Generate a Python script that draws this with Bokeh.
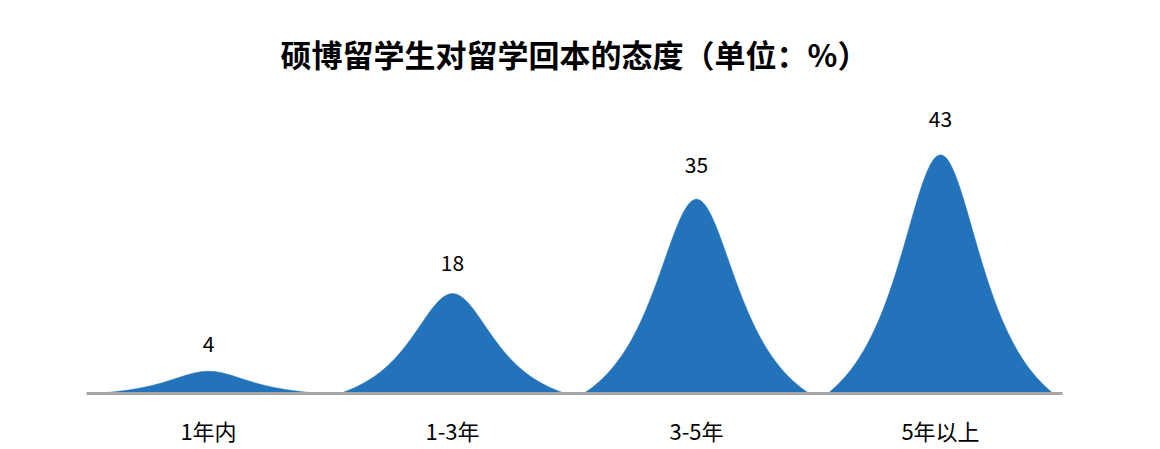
import numpy as np
from bokeh.plotting import figure
from bokeh.models import Range1d, FixedTicker, ColumnDataSource
from bokeh.embed import file_html
from bokeh.resources import INLINE
from bokeh.core.properties import value

# ---- data ----
categories = ["1年内", "1-3年", "3-5年", "5年以上"]
values = [4, 18, 35, 43]
title_text = "硕博留学生对留学回本的态度（单位：%）"

# ---- style ----
BLUE = "#2373BA"
AXIS_GRAY = "#A6A6A6"
FONT = "Noto Sans CJK SC"
HALF_WIDTH = 0.462      # half base width of a peak, in category units
PEAK_FILL = 0.96        # peak shape fills 96% of its bar height

p = figure(width=1160, height=449, output_backend="svg", toolbar_location=None,
           x_range=Range1d(0, len(categories)), y_range=Range1d(0, 50),
           min_border_left=86, min_border_right=98,
           min_border_top=101, min_border_bottom=56)

# peak ("mountain") shapes
u = np.linspace(-1, 1, 241)
prof = (1 - u ** 2) / (1 + (u / 0.485) ** 2)
xs = [list(i + 0.5 + u * HALF_WIDTH) for i in range(len(values))]
ys = [list(v * PEAK_FILL * prof) for v in values]
p.patches(xs, ys, fill_color=BLUE, line_color=BLUE, line_width=0.6)

# value labels
src = ColumnDataSource(dict(x=[i + 0.5 for i in range(len(values))], y=values,
                            t=[str(v) for v in values]))
p.text(x="x", y="y", text="t", source=src, text_align="center", text_baseline="middle",
       y_offset=-26, text_font=value(FONT), text_font_size="21px", text_color="#000000")

# axes
p.yaxis.visible = False
p.xaxis.ticker = FixedTicker(ticks=[i + 0.5 for i in range(len(categories))])
p.xaxis.major_label_overrides = {i + 0.5: c for i, c in enumerate(categories)}
p.xaxis.axis_line_color = AXIS_GRAY
p.xaxis.axis_line_width = 3
p.xaxis.major_tick_line_color = None
p.xaxis.minor_tick_line_color = None
p.xaxis.major_tick_out = 0
p.xaxis.major_tick_in = 0
p.xaxis.major_label_standoff = 20
p.xaxis.major_label_text_font = FONT
p.xaxis.major_label_text_font_size = "22px"
p.xaxis.major_label_text_color = "#000000"

p.xgrid.visible = False
p.ygrid.visible = False
p.outline_line_color = None
p.background_fill_color = "white"
p.border_fill_color = "white"

# title
p.title.text = title_text
p.title.align = "center"
p.title.standoff = 57
p.title.text_font = FONT
p.title.text_font_size = "31px"
p.title.text_font_style = "bold"
p.title.text_color = "#000000"

open("out.html", "w").write(file_html(p, INLINE))
